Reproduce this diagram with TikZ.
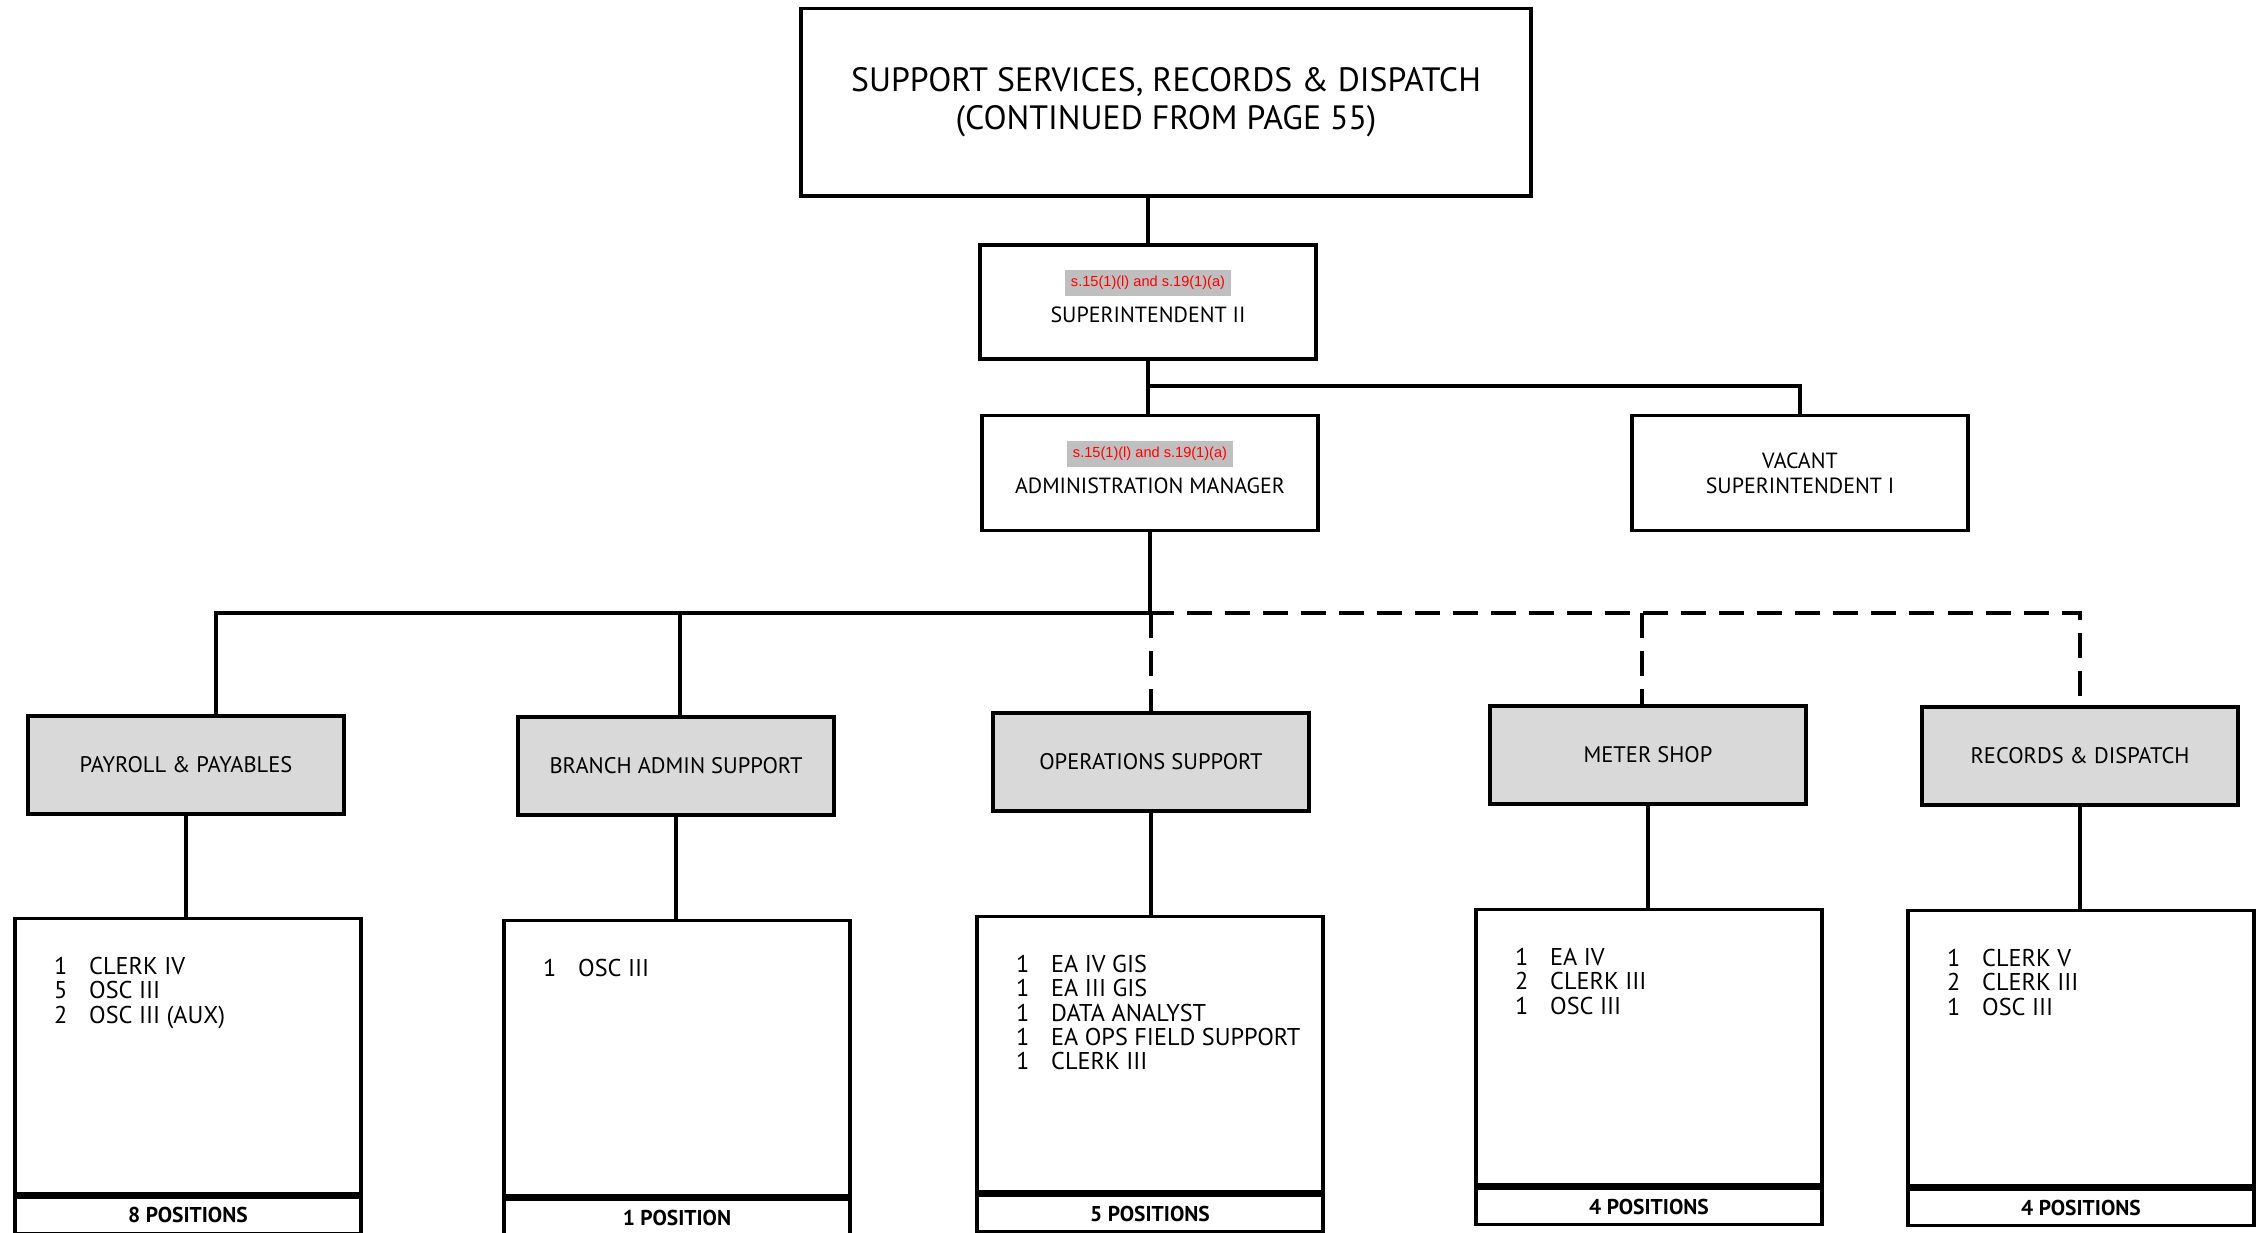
\documentclass[tikz,border=0pt]{standalone}
\usepackage{fontspec}
\setmainfont{PT Sans}
\newfontfamily\redfont{Liberation Sans}
\usetikzlibrary{positioning}
\definecolor{deptgray}{HTML}{D9D9D9}
\definecolor{redactgray}{HTML}{BFBFBF}
\definecolor{redactred}{HTML}{FF0000}
\newcommand{\redact}[1]{{\setlength{\fboxsep}{1.8pt}\colorbox{redactgray}{\redfont\fontsize{4.15}{5}\selectfont\color{redactred}#1}}}
\newcommand{\posn}[2]{\makebox[0.35cm][l]{#1}#2}

\begin{document}
\begin{tikzpicture}[x=0.01cm,y=-0.01cm,
      box/.style={draw,line width=1.1pt,fill=white,align=center,inner sep=2pt,font=\fontsize{6.25}{7}\selectfont},
      dept/.style={box,fill=deptgray,minimum width=3.16cm,minimum height=0.98cm,font=\fontsize{6.4}{8}\selectfont},
      list/.style={draw,line width=1.1pt,minimum width=3.45cm,minimum height=2.75cm},
      items/.style={align=left,inner sep=0pt,font=\fontsize{6.9}{6.9}\selectfont},
      foot/.style={draw,line width=1.1pt,minimum width=3.45cm,minimum height=0.36cm,inner sep=0pt,font=\bfseries\fontsize{6.1}{7}\selectfont},
      conn/.style={line width=1pt},
      dconn/.style={line width=1pt,dash pattern=on 0.25cm off 0.13cm}]
    \useasboundingbox (0,0) rectangle (2258,1232);
    % top of the chart
    \node[box,minimum width=7.29cm,minimum height=1.87cm,text depth=2pt,font=\fontsize{9.6}{11}\selectfont] (top) at (1166,102)
      {SUPPORT SERVICES, RECORDS \& DISPATCH\\(CONTINUED FROM PAGE 55)};
    \node[box,minimum width=3.35cm,minimum height=1.14cm,text depth=3.3pt] (sup) at (1148,302)
      {\redact{s.15(1)(l) and s.19(1)(a)}\\[2pt]SUPERINTENDENT II};
    \node[box,minimum width=3.36cm,minimum height=1.15cm,text depth=3.3pt] (adm) at (1150,473)
      {\redact{s.15(1)(l) and s.19(1)(a)}\\[2pt]ADMINISTRATION MANAGER};
    \node[box,minimum width=3.35cm,minimum height=1.15cm] (vac) at (1800,473)
      {VACANT\\SUPERINTENDENT I};
    % sections
    \node[dept] (pay) at (186,765) {PAYROLL \& PAYABLES};
    \node[dept] (branch) at (676,766) {BRANCH ADMIN SUPPORT};
    \node[dept] (ops) at (1151,762) {OPERATIONS SUPPORT};
    \node[dept] (meter) at (1648,755) {METER SHOP};
    \node[dept] (rec) at (2080,756) {RECORDS \& DISPATCH};
    % staff lists
    \node[list] (paylist) at (188,1056) {};
    \node[list] (branchlist) at (677,1058) {};
    \node[list] (opslist) at (1150,1054) {};
    \node[list] (meterlist) at (1649,1047) {};
    \node[list] (reclist) at (2081,1048) {};
    \node[items,below right=0.4cm and 0.4cm of paylist.north west] (paytxt)
      {\posn{1}{CLERK IV}\\\posn{5}{OSC III}\\\posn{2}{OSC III (AUX)}};
    \node[items,below right=0.4cm and 0.4cm of branchlist.north west] (branchtxt)
      {\posn{1}{OSC III}};
    \node[items,below right=0.4cm and 0.4cm of opslist.north west] (opstxt)
      {\posn{1}{EA IV GIS}\\\posn{1}{EA III GIS}\\\posn{1}{DATA ANALYST}\\\posn{1}{EA OPS FIELD SUPPORT}\\\posn{1}{CLERK III}};
    \node[items,below right=0.4cm and 0.4cm of meterlist.north west] (metertxt)
      {\posn{1}{EA IV}\\\posn{2}{CLERK III}\\\posn{1}{OSC III}};
    \node[items,below right=0.4cm and 0.4cm of reclist.north west] (rectxt)
      {\posn{1}{CLERK V}\\\posn{2}{CLERK III}\\\posn{1}{OSC III}};
    \node[foot,below=0pt of paylist] (payfoot) {8 POSITIONS};
    \node[foot,below=0pt of branchlist] (branchfoot) {1 POSITION};
    \node[foot,below=0pt of opslist] (opsfoot) {5 POSITIONS};
    \node[foot,below=0pt of meterlist] (meterfoot) {4 POSITIONS};
    \node[foot,below=0pt of reclist] (recfoot) {4 POSITIONS};
    % connectors
    \coordinate (j1) at (1149,386);
    \coordinate (bus) at (1149,613);
    \draw[conn] (top.south -| sup.north) -- (sup.north);
    \draw[conn] (sup.south) -- (sup.south |- adm.north);
    \draw[conn] (j1) -| (vac.north);
    \draw[conn] (adm.south) -- (adm.south |- bus);
    \draw[conn] ([xshift=0.3cm]pay.north) |- (bus);
    \draw[conn] ([xshift=0.04cm]branch.north) |- (bus);
    \draw[dconn] (bus) -| (rec.north);
    \draw[dconn] (ops.north |- bus) -- (ops.north);
    \draw[dconn] ([xshift=-0.06cm]meter.north |- bus) -- ([xshift=-0.06cm]meter.north);
    \draw[conn] (pay.south) -- (pay.south |- paylist.north);
    \draw[conn] (branch.south) -- (branch.south |- branchlist.north);
    \draw[conn] (ops.south) -- (ops.south |- opslist.north);
    \draw[conn] (meter.south) -- (meter.south |- meterlist.north);
    \draw[conn] (rec.south) -- (rec.south |- reclist.north);
  \end{tikzpicture}
\end{document}
